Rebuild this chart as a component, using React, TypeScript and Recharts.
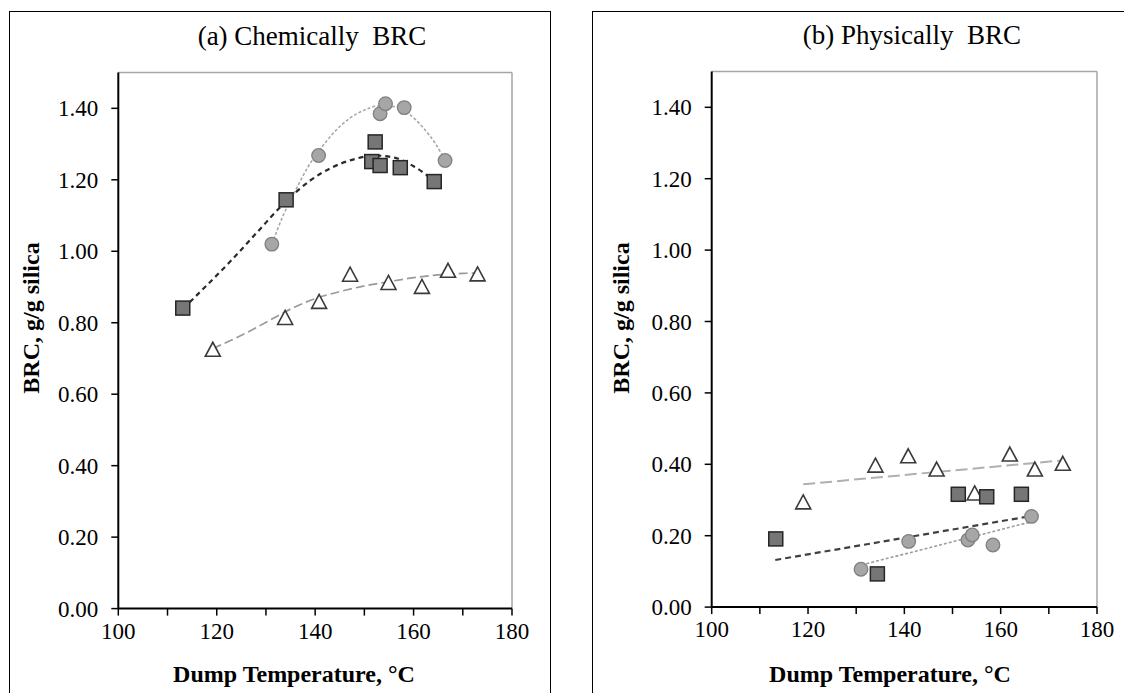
import React from 'react';
import { ComposedChart, Scatter, Line, XAxis, YAxis, ReferenceLine } from 'recharts';

// ---------- Panel (a) Chemically BRC ----------
const aCircleT = [131.2, 140.7, 153.2, 154.3, 158.1, 166.4];
const aCircleV = [1.02, 1.268, 1.385, 1.413, 1.402, 1.254];
const aSquareT = [113.1, 134.1, 152.2, 151.5, 153.2, 157.3, 164.2];
const aSquareV = [0.841, 1.144, 1.306, 1.251, 1.24, 1.234, 1.195];
const aTriT = [119.2, 133.9, 140.8, 147.1, 154.9, 161.7, 167.0, 173.0];
const aTriV = [0.723, 0.812, 0.857, 0.933, 0.91, 0.899, 0.944, 0.934];

// trend curves
const aCircleFitT = [131.2, 133.5, 136, 138.5, 141, 144, 147, 150, 153, 156, 159, 162, 164.5, 166.4];
const aCircleFitV = [1.02, 1.1, 1.17, 1.235, 1.285, 1.335, 1.372, 1.395, 1.407, 1.405, 1.385, 1.345, 1.3, 1.255];
const aSquareFitT = [113.2, 118, 123, 128, 134.1, 139, 143.5, 148, 152, 156, 160, 164.2];
const aSquareFitV = [0.84, 0.905, 0.975, 1.05, 1.14, 1.198, 1.235, 1.258, 1.268, 1.262, 1.238, 1.197];
const aTriFitT = [119.2, 124, 128, 132, 136, 141, 145, 150, 155, 160, 165, 170, 173];
const aTriFitV = [0.728, 0.758, 0.786, 0.816, 0.845, 0.872, 0.887, 0.903, 0.915, 0.926, 0.934, 0.938, 0.939];

// ---------- Panel (b) Physically BRC ----------
const bCircleT = [131.0, 140.9, 153.2, 154.1, 158.4, 166.4];
const bCircleV = [0.106, 0.184, 0.188, 0.202, 0.174, 0.254];
const bSquareT = [113.3, 134.4, 151.2, 157.1, 164.3];
const bSquareV = [0.191, 0.093, 0.316, 0.309, 0.316];
const bTriT = [119.0, 134.0, 140.8, 146.7, 154.6, 161.9, 167.1, 172.9];
const bTriV = [0.292, 0.395, 0.421, 0.384, 0.317, 0.426, 0.384, 0.4];

const bCircleFitT = [131.1, 166.4];
const bCircleFitV = [0.118, 0.239];
const bSquareFitT = [113.2, 165.4];
const bSquareFitV = [0.132, 0.253];
const bTriFitT = [119.0, 172.9];
const bTriFitV = [0.344, 0.411];

// ---------- axes ----------
const xTicks = [100, 110, 120, 130, 140, 150, 160, 170, 180];
const yTicks = [0, 0.2, 0.4, 0.6, 0.8, 1.0, 1.2, 1.4];
const xDomain = [100, 180];
const yDomain = [0, 1.5];

const zip = (xs: number[], ys: number[]) => xs.map((x, i) => ({ x, y: ys[i] }));

const FONT = "'Liberation Serif', 'Times New Roman', serif";

const CircleShape = (p: any) => (
  <circle cx={p.cx} cy={p.cy} r={6.8} fill="#a6a6a6" stroke="#808080" strokeWidth={1.3} />
);
const SquareShape = (p: any) => (
  <rect x={p.cx - 7} y={p.cy - 7} width={14} height={14} fill="#767676" stroke="#262626" strokeWidth={1.5} />
);
const TriShape = (p: any) => (
  <polygon
    points={`${p.cx},${p.cy - 8} ${p.cx + 7.5},${p.cy + 6} ${p.cx - 7.5},${p.cy + 6}`}
    fill="#ffffff"
    stroke="#3a3a3a"
    strokeWidth={1.6}
  />
);

type PanelProps = {
  width: number;
  height: number;
  margin: { top: number; right: number; bottom: number; left: number };
  circles: { x: number; y: number }[];
  squares: { x: number; y: number }[];
  triangles: { x: number; y: number }[];
  circleFit: { x: number; y: number }[];
  squareFit: { x: number; y: number }[];
  triFit: { x: number; y: number }[];
  curveType: 'monotone' | 'linear';
  fitStyles: { tri: [string, string, number]; sq: [string, string, number]; cir: [string, string, number] };
};

function Panel(props: PanelProps) {
  const { width, height, margin, circles, squares, triangles, circleFit, squareFit, triFit, curveType, fitStyles } = props;
  const tickStyle = { fontFamily: FONT, fontSize: 23, fill: '#000' };
  return (
    <ComposedChart width={width} height={height} margin={margin}>
      <XAxis
        type="number"
        dataKey="x"
        domain={xDomain}
        ticks={xTicks}
        interval={0}
        allowDataOverflow
        tickFormatter={(v: number) => (v % 20 === 0 ? String(v) : '')}
        tick={tickStyle}
        tickSize={7}
        tickMargin={7}
        height={40}
        axisLine={{ stroke: '#000', strokeWidth: 2 }}
        tickLine={{ stroke: '#000', strokeWidth: 1.5 }}
      />
      <YAxis
        type="number"
        dataKey="y"
        domain={yDomain}
        ticks={yTicks}
        interval={0}
        allowDataOverflow
        tickFormatter={(v: number) => v.toFixed(2)}
        tick={tickStyle}
        tickSize={7}
        tickMargin={13}
        width={60}
        axisLine={{ stroke: '#000', strokeWidth: 2 }}
        tickLine={{ stroke: '#000', strokeWidth: 1.5 }}
      />
      <ReferenceLine y={1.5} stroke="#a6a6a6" strokeWidth={1.5} />
      <ReferenceLine x={180} stroke="#a6a6a6" strokeWidth={1.5} />
      <Scatter data={triangles} shape={TriShape} isAnimationActive={false} />
      <Scatter data={circles} shape={CircleShape} isAnimationActive={false} />
      <Scatter data={squares} shape={SquareShape} isAnimationActive={false} />
      <Line
        data={triFit}
        dataKey="y"
        type={curveType}
        stroke={fitStyles.tri[0]}
        strokeDasharray={fitStyles.tri[1]}
        strokeWidth={fitStyles.tri[2]}
        dot={false}
        activeDot={false}
        isAnimationActive={false}
      />
      <Line
        data={circleFit}
        dataKey="y"
        type={curveType}
        stroke={fitStyles.cir[0]}
        strokeDasharray={fitStyles.cir[1]}
        strokeWidth={fitStyles.cir[2]}
        dot={false}
        activeDot={false}
        isAnimationActive={false}
      />
      <Line
        data={squareFit}
        dataKey="y"
        type={curveType}
        stroke={fitStyles.sq[0]}
        strokeDasharray={fitStyles.sq[1]}
        strokeWidth={fitStyles.sq[2]}
        dot={false}
        activeDot={false}
        isAnimationActive={false}
      />
    </ComposedChart>
  );
}

const textBase: React.CSSProperties = {
  position: 'absolute',
  fontFamily: FONT,
  color: '#000',
  whiteSpace: 'nowrap',
  lineHeight: 1,
};

function Centered({ cx, cy, size, bold, rotate, children }: any) {
  return (
    <div
      style={{
        ...textBase,
        left: cx,
        top: cy,
        fontSize: size,
        fontWeight: bold ? 'bold' : 'normal',
        transform: `translate(-50%, -50%)${rotate ? ' rotate(-90deg)' : ''}`,
      }}
    >
      {children}
    </div>
  );
}

export default function App() {
  return (
    <div style={{ position: 'absolute', left: 0, top: 0, width: 1124, height: 693, overflow: 'hidden', background: '#fff' }}>
      {/* panel frames */}
      <div style={{ position: 'absolute', left: 9, top: 11, width: 540, height: 720, border: '1.5px solid #000' }} />
      <div style={{ position: 'absolute', left: 592, top: 11, width: 600, height: 720, border: '1.5px solid #000' }} />

      <div style={{ position: 'absolute', left: 0, top: 0 }}>
        <Panel
          width={560}
          height={693}
          margin={{ top: 72.6, right: 48, bottom: 44.4, left: 58.3 }}
          circles={zip(aCircleT, aCircleV)}
          squares={zip(aSquareT, aSquareV)}
          triangles={zip(aTriT, aTriV)}
          circleFit={zip(aCircleFitT, aCircleFitV)}
          squareFit={zip(aSquareFitT, aSquareFitV)}
          triFit={zip(aTriFitT, aTriFitV)}
          curveType="monotone"
          fitStyles={{ tri: ['#9a9a9a', '9 4', 1.7], sq: ['#2b2b2b', '5 4', 2.2], cir: ['#a8a8a8', '3 2', 1.6] }}
        />
      </div>
      <div style={{ position: 'absolute', left: 592, top: 0 }}>
        <Panel
          width={532}
          height={693}
          margin={{ top: 71.6, right: 27, bottom: 45.9, left: 59.7 }}
          circles={zip(bCircleT, bCircleV)}
          squares={zip(bSquareT, bSquareV)}
          triangles={zip(bTriT, bTriV)}
          circleFit={zip(bCircleFitT, bCircleFitV)}
          squareFit={zip(bSquareFitT, bSquareFitV)}
          triFit={zip(bTriFitT, bTriFitV)}
          curveType="linear"
          fitStyles={{ tri: ['#b0b0b0', '12 5', 2], sq: ['#404040', '6 4', 2.2], cir: ['#9c9c9c', '3 2', 1.6] }}
        />
      </div>

      <Centered cx={312} cy={36} size={27}>(a) Chemically&nbsp; BRC</Centered>
      <Centered cx={912} cy={35} size={27}>(b) Physically&nbsp; BRC</Centered>
      <Centered cx={294} cy={674} size={24} bold>Dump Temperature, °C</Centered>
      <Centered cx={890} cy={674} size={24} bold>Dump Temperature, °C</Centered>
      <Centered cx={31} cy={318} size={24} bold rotate>BRC, g/g silica</Centered>
      <Centered cx={621} cy={318} size={24} bold rotate>BRC, g/g silica</Centered>
    </div>
  );
}
